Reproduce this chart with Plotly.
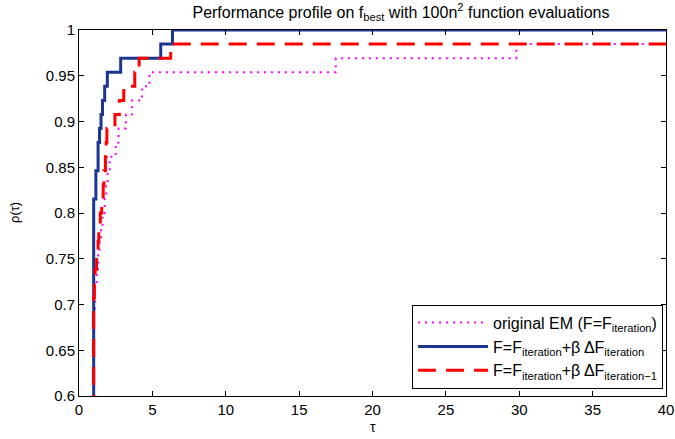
import plotly.graph_objects as go

n_problems = 65

# Original EM (F = F_iteration): tau breakpoints and number of solved problems
tau_em = [1.0, 1.0, 1.1, 1.2, 1.3, 1.4, 1.5, 1.6, 1.75, 1.85, 1.95, 2.1, 2.5, 2.7, 3.2, 3.6, 4.3, 4.8, 17.5, 29.8, 40.0]
cnt_em = [0, 45, 47, 48, 49, 50, 51, 52, 53, 54, 55, 56, 57, 58, 59, 60, 61, 62, 63, 64, 64]

# F = F_iteration + beta dF_iteration
tau_b1 = [1.0, 1.0, 1.15, 1.3, 1.4, 1.5, 1.6, 1.75, 1.93, 2.84, 5.57, 6.37, 40.0]
cnt_b1 = [0, 53, 55, 57, 58, 59, 60, 61, 62, 63, 64, 65, 65]

# F = F_iteration + beta dF_iteration-1
tau_b2 = [1.0, 1.0, 1.05, 1.1, 1.2, 1.3, 1.35, 1.45, 1.55, 1.65, 1.7, 1.8, 1.85, 1.9, 2.45, 2.75, 3.05, 3.8, 4.1, 6.25, 40.0]
cnt_b2 = [0, 46, 47, 48, 49, 50, 51, 52, 53, 54, 55, 56, 57, 58, 59, 60, 61, 62, 63, 64, 64]

x_ticks = [0, 5, 10, 15, 20, 25, 30, 35, 40]
y_ticks = [0.6, 0.65, 0.7, 0.75, 0.8, 0.85, 0.9, 0.95, 1.0]
y_tick_labels = ["0.6", "0.65", "0.7", "0.75", "0.8", "0.85", "0.9", "0.95", "1"]

FONT = "Liberation Sans, Arial, sans-serif"

fig = go.Figure()
fig.add_trace(go.Scatter(
    x=tau_em, y=[c / n_problems for c in cnt_em], mode="lines",
    line=dict(color="#ff00ff", width=2, dash="2px,5px", shape="hv"),
    name="original EM (F=F<sub>iteration</sub>)"))
fig.add_trace(go.Scatter(
    x=tau_b1, y=[c / n_problems for c in cnt_b1], mode="lines",
    line=dict(color="#1c3591", width=3, shape="hv"),
    name="F=F<sub>iteration</sub>+β ΔF<sub>iteration</sub>"))
fig.add_trace(go.Scatter(
    x=tau_b2, y=[c / n_problems for c in cnt_b2], mode="lines",
    line=dict(color="#ff0000", width=3, dash="18px,10px", shape="hv"),
    name="F=F<sub>iteration</sub>+β ΔF<sub>iteration−1</sub>"))

axis_common = dict(showline=True, linecolor="black", linewidth=1, mirror="allticks",
                   ticks="inside", ticklen=5, tickcolor="black", showgrid=False,
                   zeroline=False, automargin=False,
                   tickfont=dict(family=FONT, size=15, color="black"))

fig.update_layout(
    width=675, height=439,
    margin=dict(l=79, r=9, t=30, b=43),
    paper_bgcolor="white", plot_bgcolor="white",
    font=dict(family=FONT, size=14, color="black"),
    title=dict(text="Performance profile on f<sub>best</sub> with 100n<sup>2</sup> function evaluations",
               x=0.594, xanchor="center", y=0.972, yanchor="middle", yref="container",
               automargin=False,
               font=dict(family=FONT, size=16, color="black")),
    xaxis=dict(range=[0, 40], tickvals=x_ticks, ticktext=[str(t) for t in x_ticks], **axis_common),
    yaxis=dict(range=[0.6, 1.0], tickvals=y_ticks, ticktext=y_tick_labels, **axis_common),
    legend=dict(x=0.995, y=0.02, xanchor="right", yanchor="bottom",
                bgcolor="white", bordercolor="black", borderwidth=1,
                font=dict(family=FONT, size=16, color="black"),
                itemwidth=70, tracegroupgap=0),
    showlegend=True,
    annotations=[
        dict(text="τ", xref="paper", yref="paper", x=0.5, y=0, yanchor="top",
             yshift=-21, showarrow=False, font=dict(family=FONT, size=14, color="black")),
        dict(text="ρ(τ)", xref="paper", yref="paper", x=0, y=0.5, xanchor="center",
             xshift=-65, textangle=-90, showarrow=False,
             font=dict(family=FONT, size=13, color="black")),
    ],
)

fig.write_html("out.html", config={"displayModeBar": False},
               post_script="document.body.style.margin='0';document.body.style.overflow='hidden';")
